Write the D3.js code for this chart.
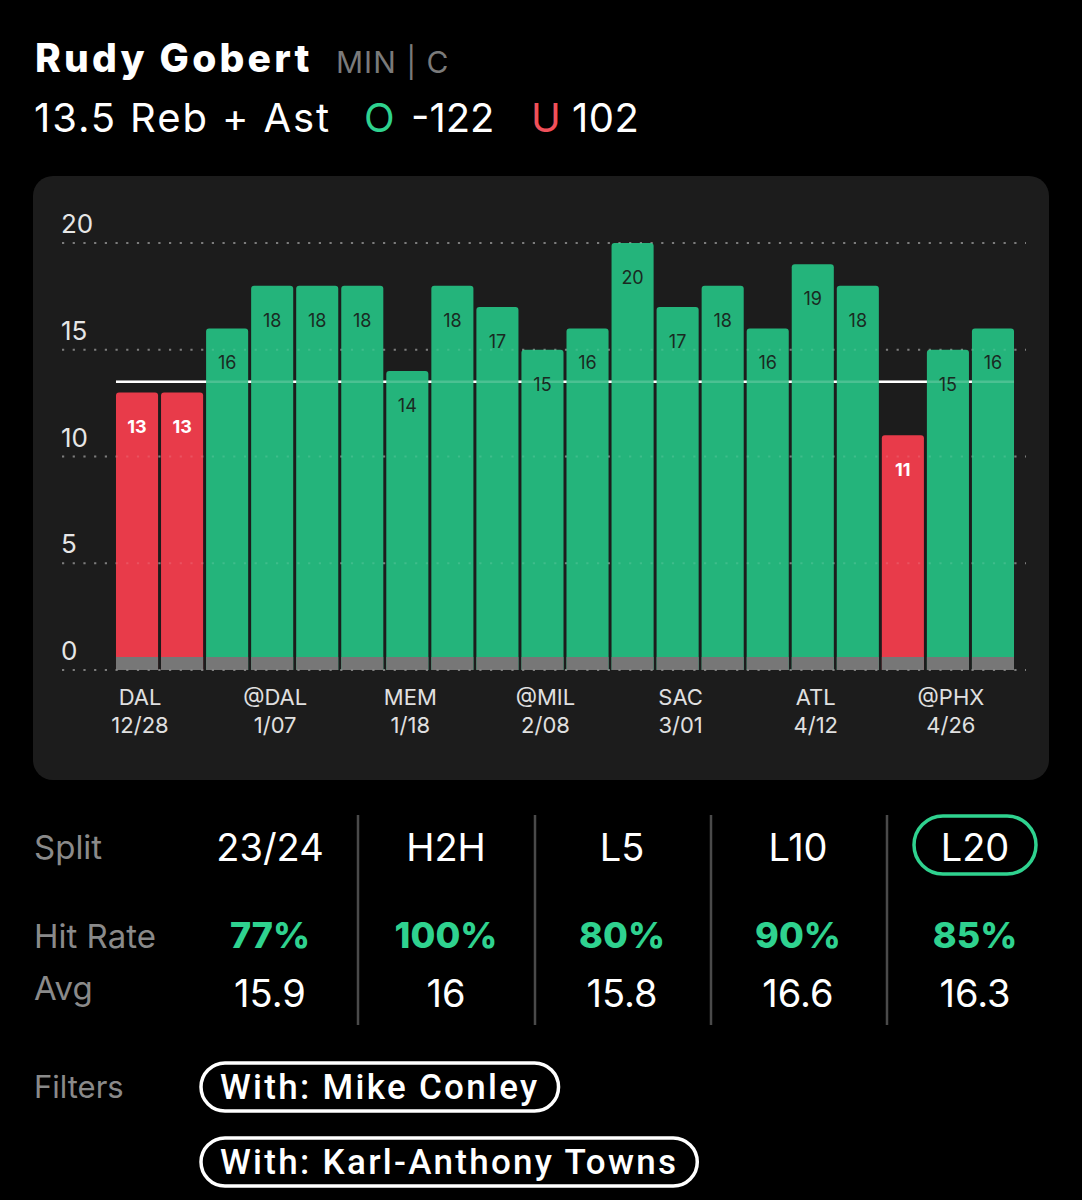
<!DOCTYPE html>
<html><head><meta charset="utf-8">
<script src="https://cdn.jsdelivr.net/npm/d3@7"></script>
<style>html,body{margin:0;padding:0;background:#000;}svg{display:block;}</style>
</head><body>
<svg id="c" width="1082" height="1200"></svg>
<script>
// ---- data ----
const gameValues = [13,13,16,18,18,18,14,18,17,15,16,20,17,18,16,19,18,11,15,16];
const propLine = 13.5;
const yTicks = [0,5,10,15,20];
const tickIndex = [0,3,6,9,12,15,18];
const tickOpp = ["DAL","@DAL","MEM","@MIL","SAC","ATL","@PHX"];
const tickDate = ["12/28","1/07","1/18","2/08","3/01","4/12","4/26"];
const splits = ["23/24","H2H","L5","L10","L20"];
const hitRates = ["77%","100%","80%","90%","85%"];
const avgs = ["15.9","16","15.8","16.6","16.3"];
const filters = ["With: Mike Conley","With: Karl-Anthony Towns"];

const GREEN="#24b47b", RED="#e83b4a", HIT="#2fd28f";
const FONT="Inter, 'Noto Sans', sans-serif";
const svg=d3.select("#c");
svg.append("rect").attr("width",1082).attr("height",1200).attr("fill","#000");

// header
svg.append("text").attr("x",35).attr("y",72).attr("font-family",FONT).attr("fill","#fff")
  .attr("font-size",39).attr("font-weight",800).attr("letter-spacing",3.2).text("Rudy Gobert");
svg.append("text").attr("x",336).attr("y",73).attr("font-family",FONT).attr("font-size",30)
  .attr("letter-spacing",1).attr("fill","#7a7a7a").text("MIN | C");
const h2=svg.append("g").attr("font-family",FONT).attr("font-size",40);
h2.append("text").attr("x",34).attr("y",132).attr("fill","#fff").attr("letter-spacing",1.9).text("13.5 Reb + Ast");
h2.append("text").attr("x",364).attr("y",132).attr("fill",HIT).text("O");
h2.append("text").attr("x",411).attr("y",132).attr("fill","#fff").text("-122");
h2.append("text").attr("x",531).attr("y",132).attr("fill","#f0505a").text("U");
h2.append("text").attr("x",572).attr("y",132).attr("fill","#fff").attr("letter-spacing",0.5).text("102");

// card
svg.append("rect").attr("x",33).attr("y",176).attr("width",1016).attr("height",604).attr("rx",20).attr("fill","#1c1c1c");

const y=d3.scaleLinear().domain([0,20]).range([670,243]);
const x=d3.scaleBand().domain(d3.range(gameValues.length)).range([114.5,1015.5]).paddingInner(0.066).paddingOuter(0.033);

// grid
const grid=svg.append("g");
grid.selectAll("line").data(yTicks).join("line")
  .attr("x1",62).attr("x2",1026).attr("y1",d=>y(d)).attr("y2",d=>y(d))
  .attr("stroke","#6a6a6a").attr("stroke-width",2.2).attr("stroke-dasharray","2.2,8.5");
svg.append("g").selectAll("text").data(yTicks).join("text")
  .attr("x",61).attr("y",d=>y(d)-10).attr("font-family",FONT).attr("font-size",26)
  .attr("fill","#e6e6e6").text(d=>d);

// prop line behind bars
svg.append("line").attr("x1",x(0)).attr("x2",x(gameValues.length-1)+x.bandwidth())
  .attr("y1",y(propLine)).attr("y2",y(propLine)).attr("stroke","#fff").attr("stroke-width",2.5);

// bars
const bars=svg.append("g");
bars.selectAll("path").data(gameValues).join("path")
  .attr("d",(d,i)=>{
    const x0=x(i), w=x.bandwidth(), t=y(d), b=y(0), r=3;
    return `M${x0},${b}V${t+r}Q${x0},${t} ${x0+r},${t}H${x0+w-r}Q${x0+w},${t} ${x0+w},${t+r}V${b}Z`;
  })
  .attr("fill",d=>d>propLine?GREEN:RED);
bars.selectAll("rect.base").data(gameValues).join("rect").attr("class","base")
  .attr("x",(d,i)=>x(i)).attr("width",x.bandwidth()).attr("y",y(0)-13).attr("height",13).attr("fill","#777");

// faint overlays on bars
svg.append("line").attr("x1",x(0)).attr("x2",x(gameValues.length-1)+x.bandwidth())
  .attr("y1",y(propLine)).attr("y2",y(propLine)).attr("stroke","#fff").attr("stroke-opacity",0.18).attr("stroke-width",2.5);
svg.append("g").selectAll("line").data(yTicks).join("line")
  .attr("x1",62).attr("x2",1026).attr("y1",d=>y(d)).attr("y2",d=>y(d))
  .attr("stroke","#fff").attr("stroke-opacity",0.12).attr("stroke-width",2.2).attr("stroke-dasharray","2.2,8.5");

// value labels
svg.append("g").selectAll("text").data(gameValues).join("text")
  .attr("x",(d,i)=>x(i)+x.bandwidth()/2).attr("y",d=>y(d)+41)
  .attr("text-anchor","middle").attr("font-family",FONT)
  .attr("font-size",18).attr("font-weight",d=>d>propLine?400:700)
  .attr("fill",d=>d>propLine?"#1a2a22":"#fff").text(d=>d);

// x labels
const xl=svg.append("g").attr("font-family",FONT).attr("font-size",22).attr("fill","#e0e0e0").attr("text-anchor","middle");
xl.selectAll("text.o").data(tickIndex).join("text").attr("class","o")
  .attr("x",d=>x(d)+x.bandwidth()/2+3).attr("y",705).text((d,i)=>tickOpp[i]);
xl.selectAll("text.d").data(tickIndex).join("text").attr("class","d")
  .attr("x",d=>x(d)+x.bandwidth()/2+3).attr("y",733).text((d,i)=>tickDate[i]);

// table
const colX=[270,446,622,798,975];
const tb=svg.append("g").attr("font-family",FONT);
tb.append("text").attr("x",34).attr("y",859).attr("font-size",33).attr("fill","#8a8a8a").text("Split");
tb.append("text").attr("x",34).attr("y",948).attr("font-size",33).attr("fill","#8a8a8a").text("Hit Rate");
tb.append("text").attr("x",34).attr("y",1000).attr("font-size",33).attr("fill","#8a8a8a").text("Avg");
tb.selectAll("line.sep").data([358,535,711,887]).join("line").attr("class","sep")
  .attr("x1",d=>d).attr("x2",d=>d).attr("y1",815).attr("y2",1025).attr("stroke","#4a4a4a").attr("stroke-width",2.5);
tb.append("rect").attr("x",914).attr("y",816).attr("width",122).attr("height",58).attr("rx",29)
  .attr("fill","none").attr("stroke",HIT).attr("stroke-width",3.5);
tb.selectAll("text.s").data(splits).join("text").attr("class","s")
  .attr("x",(d,i)=>colX[i]).attr("y",861).attr("text-anchor","middle").attr("font-size",38).attr("fill","#fff").text(d=>d);
tb.selectAll("text.h").data(hitRates).join("text").attr("class","h")
  .attr("x",(d,i)=>colX[i]).attr("y",948).attr("text-anchor","middle").attr("font-size",36).attr("font-weight",800).attr("fill",HIT).text(d=>d);
tb.selectAll("text.a").data(avgs).join("text").attr("class","a")
  .attr("x",(d,i)=>colX[i]).attr("y",1007).attr("text-anchor","middle").attr("font-size",38).attr("fill","#fff").text(d=>d);

// filters
tb.append("text").attr("x",34).attr("y",1098).attr("font-size",31).attr("fill","#8a8a8a").text("Filters");
const fg=svg.append("g");
filters.forEach((f,i)=>{
  const cy=1087+i*75;
  const t=fg.append("text").attr("x",220).attr("y",cy+12).attr("font-family","Roboto, sans-serif")
    .attr("font-size",35).attr("font-weight",500).attr("fill","#fff").attr("letter-spacing",2.3).text(f);
  const w=t.node().getComputedTextLength();
  fg.insert("rect","text").attr("x",201).attr("y",cy-24).attr("width",w+38).attr("height",48).attr("rx",24)
    .attr("fill","none").attr("stroke","#fff").attr("stroke-width",3.5);
});
</script>
</body></html>
